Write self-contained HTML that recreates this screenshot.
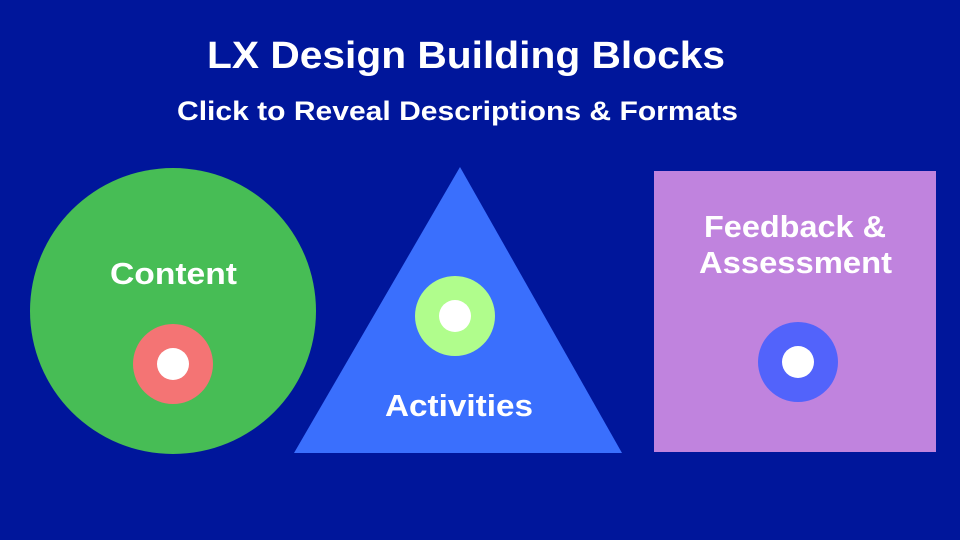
<!DOCTYPE html>
<html><head><meta charset="utf-8"><style>
html,body{margin:0;padding:0}
body{width:960px;height:540px;background:#00169b;overflow:hidden;position:relative;font-family:"Liberation Sans",sans-serif}
svg{position:absolute;left:0;top:0}
</style></head><body>
<svg width="960" height="540" viewBox="0 0 960 540">
<rect width="960" height="540" fill="#00169b"/>
<g fill="#fff" font-family="Liberation Sans,sans-serif" font-weight="bold" lengthAdjust="spacingAndGlyphs">
<text x="207" y="68" font-size="38" textLength="518" lengthAdjust="spacingAndGlyphs">LX Design Building Blocks</text>
<text x="177" y="120" font-size="27" textLength="561" lengthAdjust="spacingAndGlyphs">Click to Reveal Descriptions &amp; Formats</text>
<text x="110" y="284" font-size="31" textLength="127" lengthAdjust="spacingAndGlyphs">Content</text>
<text x="385" y="416" font-size="31" textLength="148" lengthAdjust="spacingAndGlyphs">Activities</text>
<text x="704" y="237" font-size="31" textLength="182" lengthAdjust="spacingAndGlyphs">Feedback &amp;</text>
<text x="699" y="273" font-size="31" textLength="193" lengthAdjust="spacingAndGlyphs">Assessment</text>
</g>
<circle cx="173" cy="311" r="143" fill="#47bd55"/>
<circle cx="173" cy="364" r="40" fill="#f47474"/>
<circle cx="173" cy="364" r="16" fill="#fff"/>
<polygon points="460,167 622,453 294,453" fill="#3a6ffd"/>
<circle cx="455" cy="316" r="40" fill="#b0fd8c"/>
<circle cx="455" cy="316" r="16" fill="#fff"/>
<rect x="654" y="171" width="282" height="281" fill="#c083de"/>
<circle cx="798" cy="362" r="40" fill="#5263fb"/>
<circle cx="798" cy="362" r="16" fill="#fff"/>
<g fill="#fff" font-family="Liberation Sans,sans-serif" font-weight="bold">
<text x="110" y="284" font-size="31" textLength="127" lengthAdjust="spacingAndGlyphs">Content</text>
<text x="385" y="416" font-size="31" textLength="148" lengthAdjust="spacingAndGlyphs">Activities</text>
<text x="704" y="237" font-size="31" textLength="182" lengthAdjust="spacingAndGlyphs">Feedback &amp;</text>
<text x="699" y="273" font-size="31" textLength="193" lengthAdjust="spacingAndGlyphs">Assessment</text>
</g>
</svg>
</body></html>
